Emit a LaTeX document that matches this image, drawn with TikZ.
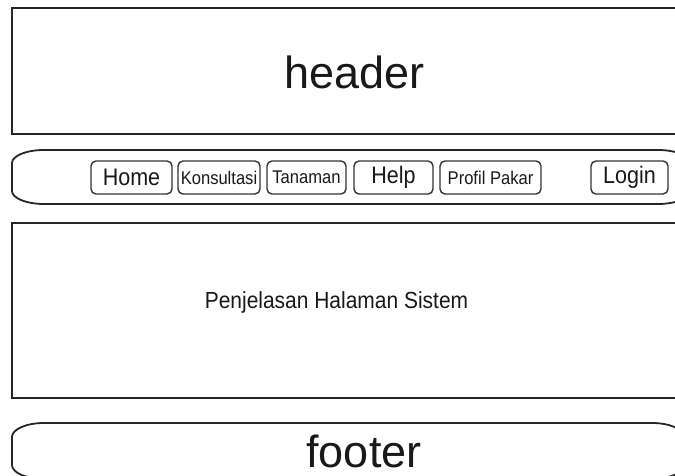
\documentclass[tikz,border=0pt]{standalone}
\usepackage{fontspec}
\setmainfont{Liberation Sans}
\newfontfamily\sempit[FakeStretch=0.9]{Liberation Sans}
\usepackage{tikz}
\usetikzlibrary{positioning}
\tikzstyle{bingkai} = [draw=black!85, line width=1.8pt]
\tikzstyle{tombol} = [rectangle, rounded corners=5pt, draw=black!80, line width=1.4pt, minimum height=33pt, inner sep=0pt]
\tikzstyle{huruf besar} = [font=\fontsize{45}{54}\selectfont, text=black!90]
\tikzstyle{huruf sedang} = [font=\sempit\fontsize{23.9}{28}\selectfont, text=black!90]
\tikzstyle{huruf kecil} = [font=\sempit\fontsize{18.4}{22}\selectfont, text=black!90]

% box with flattened oval ends: x1, y1 (bottom left), x2, y2 (top right), rx, ry
\newcommand{\kotakoval}[6]{%
  \draw [bingkai] (#1+#5,#4) -- (#3-#5,#4)
    arc[start angle=90, end angle=0, x radius=#5, y radius=#6] -- (#3,#2+#6)
    arc[start angle=0, end angle=-90, x radius=#5, y radius=#6] -- (#1+#5,#2)
    arc[start angle=270, end angle=180, x radius=#5, y radius=#6] -- (#1,#4-#6)
    arc[start angle=180, end angle=90, x radius=#5, y radius=#6] -- cycle;}

\begin{document}
\begin{tikzpicture}[x=1pt, y=1pt]
\useasboundingbox [fill=white] (0,0) rectangle (675,476);

% header
\draw [bingkai] (12,342) rectangle (682,468);
\node [huruf besar, anchor=base] (header) at (354.5,387) {header};

% menu bar
\kotakoval{12}{272}{690}{326}{32}{13}
\node [tombol, huruf sedang, minimum width=81pt] (home) at (131.5,298.5) {Home};
\node [tombol, huruf kecil, minimum width=82pt] (konsultasi) at (219,298.5) {Konsultasi};
\node [tombol, huruf kecil, minimum width=79pt] (tanaman) at (306.5,298.5) {Tanaman};
\node [tombol, huruf sedang, minimum width=79pt] (help) at (393.5,298.5) {Help};
\node [tombol, huruf kecil, minimum width=101pt] (profil) at (490.5,298.5) {Profil Pakar};
\node [tombol, huruf sedang, minimum width=77pt] (login) at (629.5,298.5) {Login};

% isi halaman
\draw [bingkai] (12,78) rectangle (682,253);
\node [font=\sempit\fontsize{23.3}{28}\selectfont, text=black!90, anchor=base] (isi) at (336.5,167) {Penjelasan Halaman Sistem};

% footer
\kotakoval{12}{-3}{684}{53}{32}{14}
\node [huruf besar, anchor=base] (footer) at (364,8) {footer};
\end{tikzpicture}
\end{document}
